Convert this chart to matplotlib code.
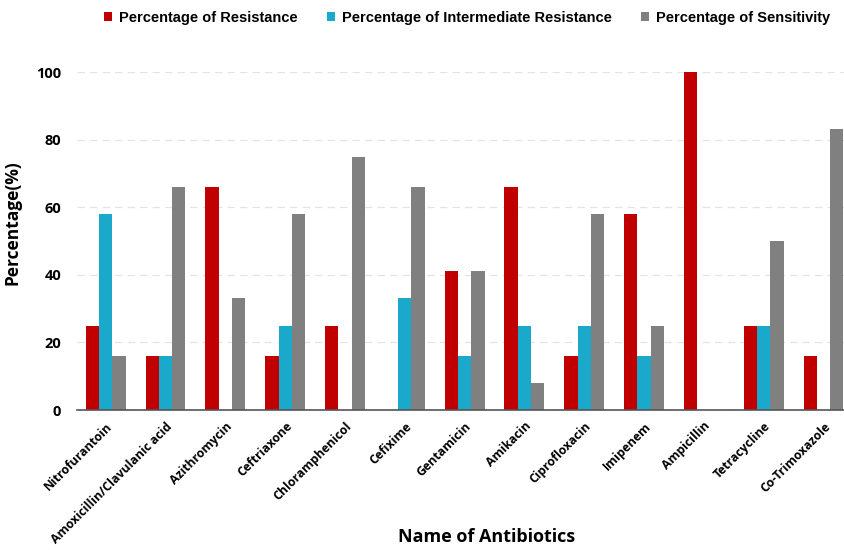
import numpy as np
import matplotlib.pyplot as plt

antibiotics = ["Nitrofurantoin", "Amoxicillin/Clavulanic acid", "Azithromycin",
               "Ceftriaxone", "Chloramphenicol", "Cefixime", "Gentamicin",
               "Amikacin", "Ciprofloxacin", "Imipenem", "Ampicillin",
               "Tetracycline", "Co-Trimoxazole"]
resistance = [25, 16, 66, 16, 25, 0, 41, 66, 16, 58, 100, 25, 16]
intermediate = [58, 16, 0, 25, 0, 33, 16, 25, 25, 16, 0, 25, 0]
sensitivity = [16, 66, 33, 58, 75, 66, 41, 8, 58, 25, 0, 50, 83]

series_names = ["Percentage of Resistance",
                "Percentage of Intermediate Resistance",
                "Percentage of Sensitivity"]
colors = ["#C00000", "#1AA9CB", "#808080"]

fig = plt.figure(figsize=(8.45, 5.5), dpi=100)
ax = fig.add_axes([77/845, 1 - 410/550, 1 - 77/845, (410 - 72)/550])

x = np.arange(len(antibiotics))
w = 0.222
for k, vals in enumerate([resistance, intermediate, sensitivity]):
    ax.bar(x + (k - 1)*w, vals, width=w, color=colors[k], label=series_names[k], zorder=2)

ax.set_xlim(-0.48, 12.36)
ax.set_ylim(0, 100)
ax.set_yticks([0, 20, 40, 60, 80, 100])
ax.yaxis.grid(True, linestyle=(0, (6, 4)), color="#e4e4e4", linewidth=0.9, zorder=0)
for s in ["left", "right", "top"]:
    ax.spines[s].set_visible(False)
ax.spines["bottom"].set_color("#555555")
ax.spines["bottom"].set_linewidth(1.2)
ax.tick_params(axis="y", length=0, pad=11.5, labelsize=10.5)
ax.tick_params(axis="x", length=0, pad=7)
for t in ax.get_yticklabels():
    t.set_fontweight("bold")
    t.set_family("Open Sans")

ax.set_xticks(x)
ax.set_xticklabels(antibiotics, rotation=45, ha="right", rotation_mode="anchor",
                   fontsize=8.8, fontweight="bold", family="Open Sans")

ax.set_ylabel("Percentage(%)", fontsize=12.5, fontweight="bold", family="Open Sans")
ax.yaxis.set_label_coords((22 - 77)/768, 0.553)
fig.text(487/845, 1 - 537/550, "Name of Antibiotics", ha="center", va="center",
         fontsize=13, fontweight="bold", family="Open Sans")

fig.legend(loc="center", bbox_to_anchor=(467/845, 1 - 18/550), ncol=3, frameon=False,
           prop={"family": "Liberation Sans", "weight": "bold", "size": 10.5},
           handlelength=0.55, handleheight=0.55, handletextpad=0.5, columnspacing=2.0)

fig.savefig("out.png", dpi=100)
